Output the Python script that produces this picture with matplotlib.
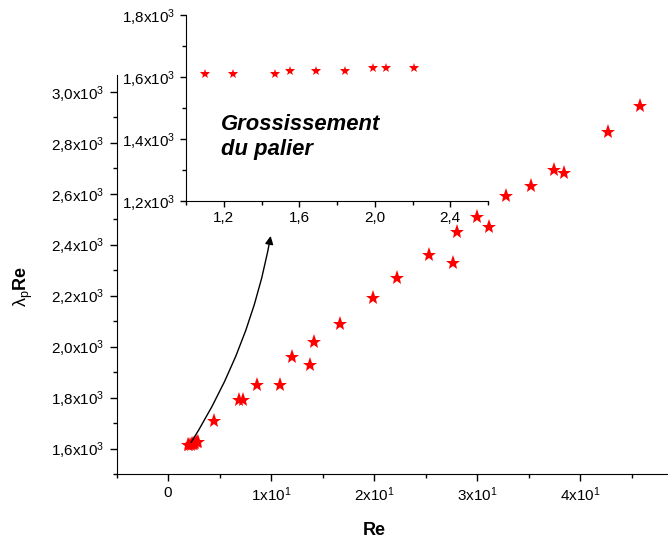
import matplotlib
matplotlib.use("Agg")
import matplotlib.pyplot as plt
from matplotlib.ticker import MultipleLocator, FuncFormatter

plt.rcParams['font.family'] = ['Liberation Sans', 'DejaVu Sans']
plt.rcParams['mathtext.fontset'] = 'custom'
plt.rcParams['mathtext.rm'] = 'Liberation Sans'
plt.rcParams['mathtext.it'] = 'Liberation Sans:italic'
plt.rcParams['mathtext.bf'] = 'Liberation Sans:bold'

# donnees du palier (encart)
re_palier = [1.10, 1.25, 1.47, 1.55, 1.69, 1.84, 1.99, 2.06, 2.21]
lre_palier = [1610, 1610, 1610, 1620, 1620, 1620, 1630, 1630, 1630]

# donnees completes (graphe principal)
re = [1.9, 2.0, 2.2, 2.3, 2.4, 2.5, 2.6, 2.8, 2.9,
      4.5, 6.9, 7.3, 8.6, 10.9, 12.0, 13.8, 14.2, 16.7, 19.9,
      22.2, 25.3, 27.6, 28.0, 30.0, 31.1, 32.8, 35.2, 37.4, 38.4,
      42.7, 45.8]
lre = [1612, 1612, 1614, 1616, 1618, 1618, 1622, 1624, 1626,
       1707, 1789, 1789, 1850, 1850, 1960, 1927, 2018, 2090, 2189,
       2271, 2361, 2330, 2450, 2510, 2471, 2590, 2631, 2692, 2681,
       2842, 2943]


def fmt_y(v, pos):
    s = ('%.1f' % (v / 1000.)).replace('.', ',')
    return s + r'x10$^{3}$'


def fmt_x(v, pos):
    if abs(v) < 1e-9:
        return '0'
    return '%dx10$^{1}$' % round(v / 10)


def fmt_in(v, pos):
    return ('%.1f' % v).replace('.', ',')


fig = plt.figure(figsize=(6.68, 5.43), dpi=100)

# graphe principal
ax = fig.add_axes([116.5/668, 69/543, (668-116.5)/668, 399/543])
ax.plot(re, lre, '*', color='red', markersize=11, markeredgewidth=0)
ax.set_xlim(-5, 48.5)
ax.set_ylim(1500, 3066)
ax.spines['top'].set_visible(False)
ax.spines['right'].set_visible(False)
ax.xaxis.set_major_locator(MultipleLocator(10))
ax.xaxis.set_minor_locator(MultipleLocator(5))
ax.yaxis.set_major_locator(MultipleLocator(200))
ax.yaxis.set_minor_locator(MultipleLocator(100))
ax.xaxis.set_major_formatter(FuncFormatter(fmt_x))
ax.yaxis.set_major_formatter(FuncFormatter(fmt_y))
ax.tick_params(which='major', length=5, width=1, labelsize=11)
ax.tick_params(which='minor', length=3, width=1)
ax.set_xlabel(r'$\mathbf{Re}$', fontsize=13)
ax.set_ylabel(r'$\mathrm{\lambda}_{\mathrm{p}}\mathbf{Re}$', fontsize=13)
ax.xaxis.set_label_coords(0.467, -0.12)
ax.yaxis.set_label_coords(-0.147, 0.47)

# fleche vers l'encart
ax.annotate('', xy=(10.0, 2445), xytext=(2.1, 1615),
            arrowprops=dict(arrowstyle='-|>', color='black', lw=1.0,
                            mutation_scale=12,
                            connectionstyle='arc3,rad=0.1'))

# encart
axi = fig.add_axes([186/668, (543-201)/543, 302/668, 186/543])
axi.plot(re_palier, lre_palier, '*', color='red', markersize=7,
         markeredgewidth=0)
axi.set_xlim(1.0, 2.6)
axi.set_ylim(1200, 1800)
axi.spines['top'].set_visible(False)
axi.spines['right'].set_visible(False)
axi.xaxis.set_major_locator(MultipleLocator(0.4, offset=0.4))
axi.xaxis.set_minor_locator(MultipleLocator(0.2))
axi.yaxis.set_major_locator(MultipleLocator(200))
axi.yaxis.set_minor_locator(MultipleLocator(100))
axi.xaxis.set_major_formatter(FuncFormatter(fmt_in))
axi.yaxis.set_major_formatter(FuncFormatter(fmt_y))
axi.tick_params(which='major', length=4, width=1, labelsize=11)
axi.tick_params(which='minor', length=3, width=1)
axi.patch.set_alpha(0)
axi.text(1.185, 1480, 'Grossissement\ndu palier', fontsize=15.8,
         fontweight='bold', fontstyle='italic', va='top', ha='left',
         linespacing=1.25)

fig.savefig('out.png', dpi=100)
